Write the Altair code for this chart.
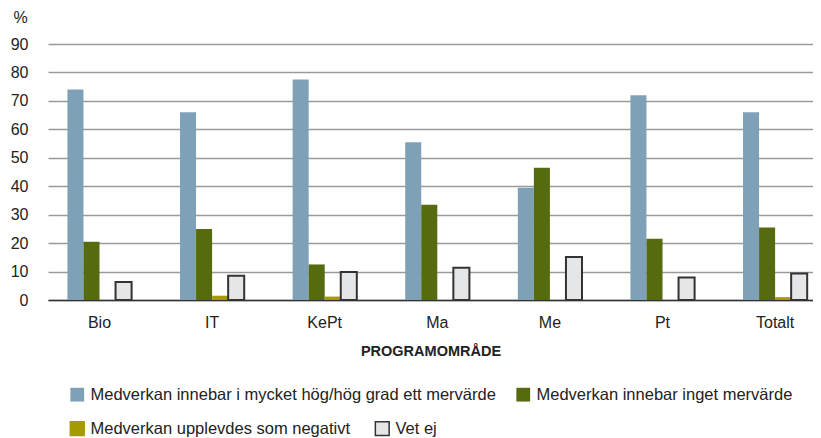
import altair as alt
import pandas as pd

categories = ["Bio", "IT", "KePt", "Ma", "Me", "Pt", "Totalt"]
series = [
    "Medverkan innebar i mycket hög/hög grad ett mervärde",
    "Medverkan innebar inget mervärde",
    "Medverkan upplevdes som negativt",
    "Vet ej",
]
hog = [74, 66, 77.5, 55.5, 39.5, 72, 66]
inget = [20.5, 25, 12.5, 33.5, 46.5, 21.5, 25.5]
negativt = [0, 1.5, 1.2, 0, 0, 0, 1]
vet_ej = [6.3, 8.5, 9.8, 11.3, 15.1, 7.9, 9.3]

fill_colors = ["#7FA1B8", "#566B10", "#A59A00", "#E5E6E8"]
stroke_colors = ["#7FA1B8", "#566B10", "#A59A00", "#333333"]

rows = []
for s, vals in zip(series, [hog, inget, negativt, vet_ej]):
    for c, v in zip(categories, vals):
        rows.append({"cat": c, "series": s, "value": v})
df = pd.DataFrame(rows)

x_enc = alt.X(
    "cat:N",
    sort=categories,
    scale=alt.Scale(paddingInner=0.43, paddingOuter=0.112, align=0.77),
    axis=alt.Axis(
        title="PROGRAMOMRÅDE",
        labelAngle=0,
        ticks=False,
        domain=True,
        domainColor="#333333",
        domainWidth=1.5,
        labelPadding=14,
        labelFontSize=16,
        labelColor="#222222",
        titleFontSize=14.5,
        titleFontWeight="bold",
        titleColor="#222222",
        titlePadding=14,
    ),
)
y_enc = alt.Y(
    "value:Q",
    scale=alt.Scale(domain=[0, 90], nice=False),
    axis=alt.Axis(
        values=list(range(0, 100, 10)),
        title="%",
        titleAngle=0,
        titleX=-35,
        titleY=-27,
        titleAlign="left",
        titleBaseline="middle",
        titleFontWeight="normal",
        titleFontSize=16,
        titleColor="#222222",
        ticks=False,
        domain=False,
        labelPadding=20,
        labelFontSize=16,
        labelColor="#222222",
        gridColor="#9a9a9a",
        gridWidth=1.5,
    ),
)

bars = alt.Chart(df).mark_bar().encode(
    x=x_enc,
    xOffset=alt.XOffset("series:N", sort=series),
    y=y_enc,
    fill=alt.Fill(
        "series:N",
        sort=series,
        scale=alt.Scale(domain=series, range=fill_colors),
        legend=alt.Legend(
            title=None,
            orient="none",
            direction="horizontal",
            legendX=21,
            legendY=342,
            values=series[:2],
            columnPadding=17,
        ),
    ),
    stroke=alt.condition(alt.datum.series == "Vet ej", alt.value("#333333"), alt.value("transparent")),
    strokeWidth=alt.condition(alt.datum.series == "Vet ej", alt.value(2), alt.value(0)),
)

legend2 = alt.Chart(df).transform_filter(
    "datum.value < 0"
).transform_calculate(
    series2="datum.series"
).mark_bar(strokeWidth=1.5).encode(
    x=x_enc,
    y=y_enc,
    fill=alt.Fill(
        "series2:N",
        scale=alt.Scale(domain=series[2:], range=fill_colors[2:]),
        legend=alt.Legend(
            title=None,
            orient="none",
            direction="horizontal",
            legendX=21,
            legendY=376,
            columnPadding=21,
        ),
    ),
    stroke=alt.Stroke(
        "series2:N",
        scale=alt.Scale(domain=series[2:], range=stroke_colors[2:]),
        legend=alt.Legend(
            title=None,
            orient="none",
            direction="horizontal",
            legendX=21,
            legendY=376,
            columnPadding=21,
        ),
    ),
)

chart = alt.layer(bars, legend2).resolve_scale(
    fill="independent", stroke="independent"
).resolve_legend(
    fill="independent", stroke="independent"
).properties(
    width=765,
    height=256,
    padding={"left": 40, "top": 36, "right": 0, "bottom": 138},
    autosize=alt.AutoSizeParams(type="none"),
).configure(
    font="Liberation Sans",
).configure_view(
    stroke=None,
).configure_legend(
    labelFontSize=16.5,
    labelColor="#222222",
    labelLimit=0,
    symbolType="square",
    symbolSize=190,
    symbolStrokeWidth=1.5,
    labelOffset=5,
)

chart.save("out.html", embed_options={"renderer": "svg", "actions": False})
